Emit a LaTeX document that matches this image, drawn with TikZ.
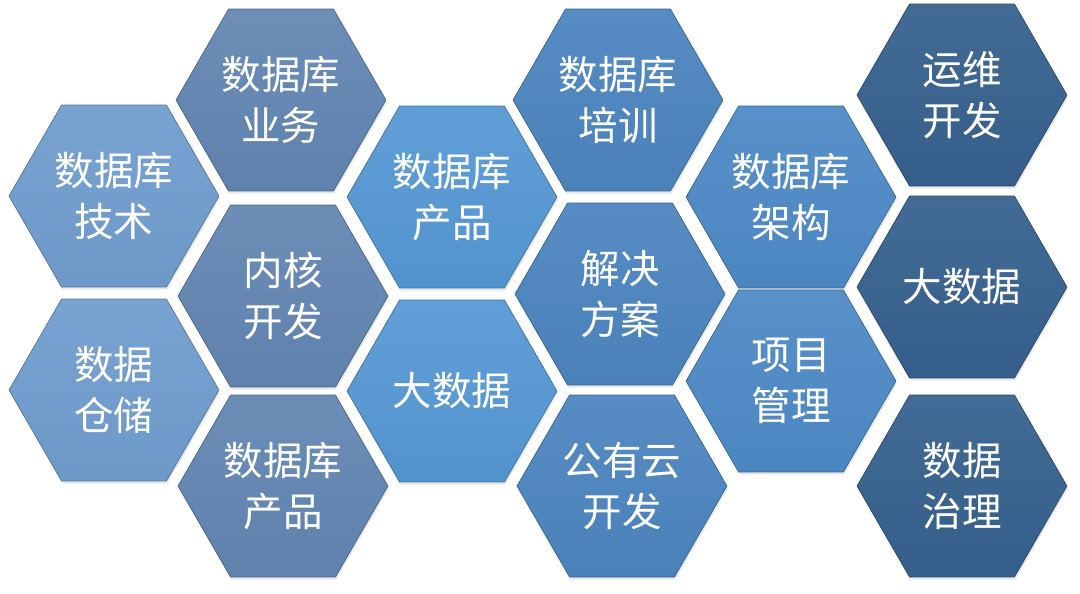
\documentclass[tikz,border=0pt]{standalone}
\usepackage{fontspec}
\setmainfont{Noto Sans CJK SC}
\usetikzlibrary{shapes.geometric,shadows}
\definecolor{HexLight}{RGB}{112,157,206}
\definecolor{HexSlate}{RGB}{98,134,178}
\definecolor{HexBright}{RGB}{86,152,212}
\definecolor{HexMid}{RGB}{76,133,191}
\definecolor{HexSky}{RGB}{78,138,198}
\definecolor{HexDeep}{RGB}{54,97,142}

\begin{document}
\begin{tikzpicture}[x=0.02cm, y=-0.02cm,
  every node/.style={font=\fontsize{22.5}{29}\selectfont, align=center, text=white},
  hexcell/.style={regular polygon, regular polygon sides=6, minimum size=4.2cm, inner sep=0pt,
    draw=#1!75!black, line width=0.4pt, top color=#1!94!white, bottom color=#1!97!black,
    drop shadow={opacity=0.18, shadow xshift=0.5pt, shadow yshift=-1.5pt}}]
  \useasboundingbox (0,0) rectangle (1080,593);
  % column 1
  \node[hexcell=HexLight] (tech) at (114,196) {数据库\\技术};
  \node[hexcell=HexLight] (warehouse) at (114,390) {数据\\仓储};
  % column 2
  \node[hexcell=HexSlate] (business) at (281,100) {数据库\\业务};
  \node[hexcell=HexSlate] (kernel) at (283,296) {内核\\开发};
  \node[hexcell=HexSlate] (productlow) at (283,486) {数据库\\产品};
  % column 3
  \node[hexcell=HexBright] (product) at (452,197) {数据库\\产品};
  \node[hexcell=HexBright] (bigdata) at (452,391) {大数据};
  % column 4
  \node[hexcell=HexMid] (training) at (618,100) {数据库\\培训};
  \node[hexcell=HexMid] (solution) at (620,294) {解决\\方案};
  \node[hexcell=HexMid] (cloud) at (622,486) {公有云\\开发};
  % column 5
  \node[hexcell=HexSky] (arch) at (791,197) {数据库\\架构};
  \node[hexcell=HexSky] (project) at (791,381) {项目\\管理};
  % column 6
  \node[hexcell=HexDeep] (ops) at (962,95) {运维\\开发};
  \node[hexcell=HexDeep] (bigdataright) at (962,287) {大数据};
  \node[hexcell=HexDeep] (governance) at (962,486) {数据\\治理};
\end{tikzpicture}
\end{document}
